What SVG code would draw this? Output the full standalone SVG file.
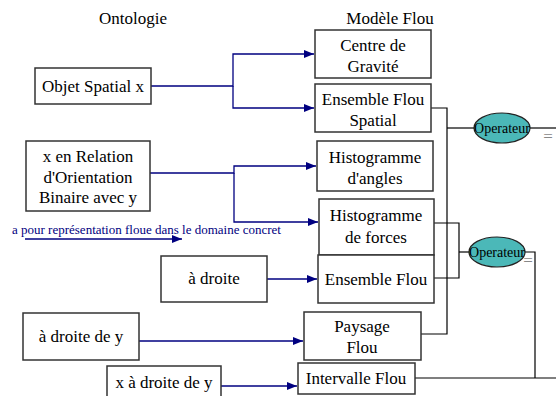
<svg xmlns="http://www.w3.org/2000/svg" width="556" height="396" viewBox="0 0 556 396">
<style>
text{font-family:"Liberation Serif","Times New Roman",serif;font-size:17px;fill:#000;text-anchor:middle}
.box{fill:#fff;stroke:#333;stroke-width:1.5}
.blue{fill:none;stroke:#000080;stroke-width:1.3}
.blk{fill:none;stroke:#000;stroke-width:1.2}
.op{fill:#4BB8B8;stroke:#222;stroke-width:1.2}
.opt{font-size:14px}
.lbl{font-size:13px;fill:#000080;text-anchor:start}
.eq{font-size:17px;fill:#888}
</style>
<defs>
<marker id="ah" viewBox="0 0 10 8" refX="10" refY="4" markerWidth="10" markerHeight="8" markerUnits="userSpaceOnUse" orient="auto">
<path d="M0,0 L10,4 L0,8 z" fill="#000080"/>
</marker>
</defs>
<g id="titles">
<text x="133" y="24">Ontologie</text>
<text x="390" y="24">Modèle Flou</text>
</g>
<g id="connectors">
<path class="blue" d="M151,86 H233 V54 H314" marker-end="url(#ah)"/>
<path class="blue" d="M233,86 V108 H314" marker-end="url(#ah)"/>
<path class="blue" d="M150,173 H234 V166 H316" marker-end="url(#ah)"/>
<path class="blue" d="M234,173 V222 H318" marker-end="url(#ah)"/>
<path class="blue" d="M25,239 H182" marker-end="url(#ah)"/>
<path class="blue" d="M267,279 H317" marker-end="url(#ah)"/>
<path class="blue" d="M139,341 H303" marker-end="url(#ah)"/>
<path class="blue" d="M221,386 H297" marker-end="url(#ah)"/>
<path class="blk" d="M431,108 H447 V334 H421"/>
<path class="blk" d="M447,128 H474"/>
<path class="blk" d="M530,128 H556"/>
<path class="blk" d="M434,223 H459 V278 H434"/>
<path class="blk" d="M459,252 H469"/>
<path class="blk" d="M525,252 H535 V378"/>
<path class="blk" d="M415,378 H556"/>
</g>
<g id="label">
<text class="lbl" x="12" y="234">a pour représentation floue dans le domaine concret</text>
</g>
<g id="objet-spatial">
<rect class="box" x="35" y="68" width="116" height="36"/>
<text x="93" y="92">Objet Spatial x</text>
</g>
<g id="relation">
<rect class="box" x="26" y="141" width="124" height="70"/>
<text x="88" y="162">x en Relation</text>
<text x="88" y="183">d'Orientation</text>
<text x="88" y="203">Binaire avec y</text>
</g>
<g id="a-droite">
<rect class="box" x="161" y="256" width="106" height="46"/>
<text x="214" y="284">à droite</text>
</g>
<g id="a-droite-de-y">
<rect class="box" x="23" y="313" width="116" height="47"/>
<text x="81" y="342">à droite de y</text>
</g>
<g id="x-a-droite-de-y">
<rect class="box" x="107" y="366" width="114" height="40"/>
<text x="164" y="388">x à droite de y</text>
</g>
<g id="centre-gravite">
<rect class="box" x="315" y="30" width="116" height="48"/>
<text x="373" y="51">Centre de</text>
<text x="373" y="72">Gravité</text>
</g>
<g id="ensemble-flou-spatial">
<rect class="box" x="315" y="84" width="116" height="48"/>
<text x="373" y="105">Ensemble Flou</text>
<text x="373" y="126">Spatial</text>
</g>
<g id="histogramme-angles">
<rect class="box" x="317" y="141" width="116" height="50"/>
<text x="375" y="163">Histogramme</text>
<text x="375" y="184">d'angles</text>
</g>
<g id="histogramme-forces">
<rect class="box" x="319" y="199" width="115" height="56"/>
<text x="376" y="221">Histogramme</text>
<text x="376" y="243">de forces</text>
</g>
<g id="ensemble-flou">
<rect class="box" x="318" y="255" width="116" height="48"/>
<text x="376" y="285">Ensemble Flou</text>
</g>
<g id="paysage-flou">
<rect class="box" x="304" y="312" width="117" height="48"/>
<text x="362" y="332">Paysage</text>
<text x="362" y="353">Flou</text>
</g>
<g id="intervalle-flou">
<rect class="box" x="298" y="363" width="117" height="31"/>
<text x="356" y="384">Intervalle Flou</text>
</g>
<g id="operateur-1">
<ellipse class="op" cx="502" cy="128" rx="28" ry="15"/>
<text class="opt" x="502" y="133">Operateur</text>
<text class="eq" x="548" y="142">=</text>
</g>
<g id="operateur-2">
<ellipse class="op" cx="497" cy="252" rx="28" ry="15"/>
<text class="opt" x="497" y="257">Operateur</text>
<text class="eq" x="528" y="266">=</text>
</g>
</svg>
